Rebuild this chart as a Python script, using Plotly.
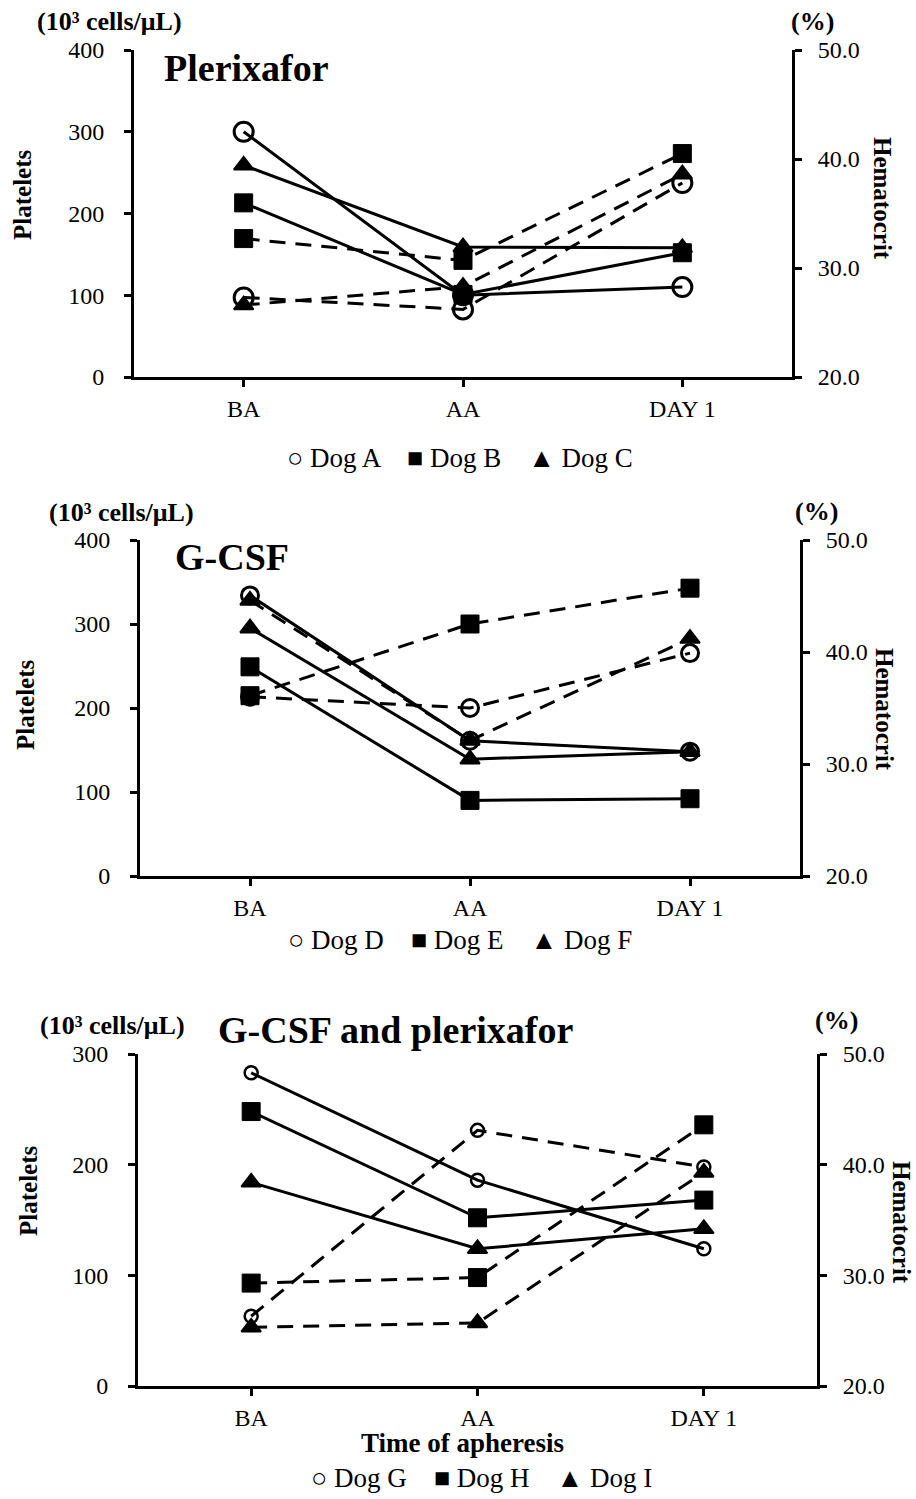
import plotly.graph_objects as go

# ---- data -------------------------------------------------------------
time_points = ["BA", "AA", "DAY 1"]

# Plerixafor
plt_dog_a = [300, 100, 110]
plt_dog_b = [213, 101, 152]
plt_dog_c = [259, 159, 158]
hct_dog_a = [27.3, 26.2, 37.8]
hct_dog_b = [32.7, 30.7, 40.5]
hct_dog_c = [26.6, 28.3, 38.6]

# G-CSF
plt_dog_d = [334, 161, 148]
plt_dog_e = [249, 90, 92]
plt_dog_f = [295, 139, 148]
hct_dog_d = [36.0, 35.0, 39.9]
hct_dog_e = [36.1, 42.5, 45.7]
hct_dog_f = [44.6, 32.1, 41.2]

# G-CSF and plerixafor
plt_dog_g = [283, 186, 124]
plt_dog_h = [248, 152, 168]
plt_dog_i = [184, 124, 142]
hct_dog_g = [26.3, 43.1, 39.8]
hct_dog_h = [29.3, 29.8, 43.6]
hct_dog_i = [25.3, 25.7, 39.3]

panel_titles = ["Plerixafor", "G-CSF", "G-CSF and plerixafor"]
legend_texts = ["○ Dog A    ■ Dog B    ▲ Dog C",
                "○ Dog D    ■ Dog E    ▲ Dog F",
                "○ Dog G    ■ Dog H    ▲ Dog I"]
plt_ticks = [[0, 100, 200, 300, 400], [0, 100, 200, 300, 400], [0, 100, 200, 300]]
hct_ticks = [20, 30, 40, 50]

# ---- layout helpers ---------------------------------------------------
W, H = 916, 1499
FONT = "Liberation Serif"


def fx(px):
    return px / W


def fy(py):
    return 1 - py / H


# plot-area boxes in pixels: left, right, top, bottom
boxes = [(134, 792, 50, 377), (140, 800, 540, 876), (138, 817, 1054, 1386)]
circle_sizes = [(19, 3), (17, 3), (13, 2.5)]

groups = [
    ([plt_dog_a, plt_dog_b, plt_dog_c], [hct_dog_a, hct_dog_b, hct_dog_c]),
    ([plt_dog_d, plt_dog_e, plt_dog_f], [hct_dog_d, hct_dog_e, hct_dog_f]),
    ([plt_dog_g, plt_dog_h, plt_dog_i], [hct_dog_g, hct_dog_h, hct_dog_i]),
]

fig = go.Figure()

for p, (plts, hcts) in enumerate(groups):
    xa = "x" if p == 0 else f"x{p + 1}"
    ya_plt = "y" if p == 0 else f"y{2 * p + 1}"
    ya_hct = f"y{2 * p + 2}"
    csize, cwidth = circle_sizes[p]
    symbols = [
        dict(symbol="circle-open", size=csize, color="black", line=dict(width=cwidth, color="black")),
        dict(symbol="square", size=18, color="black", line=dict(width=1, color="black")),
        dict(symbol="triangle-up", size=17, color="black", line=dict(width=2, color="black")),
    ]
    # hematocrit: dashed lines on the right-hand axis
    for vals, mk in zip(hcts, symbols):
        fig.add_trace(go.Scatter(
            x=time_points, y=vals, xaxis=xa, yaxis=ya_hct, mode="lines+markers",
            line=dict(color="black", width=3, dash="16px,10px"), marker=mk,
            showlegend=False, cliponaxis=False))
    # platelets: solid lines on the left-hand axis
    for vals, mk in zip(plts, symbols):
        fig.add_trace(go.Scatter(
            x=time_points, y=vals, xaxis=xa, yaxis=ya_plt, mode="lines+markers",
            line=dict(color="black", width=3), marker=mk,
            showlegend=False, cliponaxis=False))

layout = dict(
    template="none",
    width=W, height=H, margin=dict(l=0, r=0, t=0, b=0, pad=0),
    paper_bgcolor="white", plot_bgcolor="white",
    font=dict(family=FONT, color="black"),
    showlegend=False,
)

tickfont = dict(family=FONT, size=24, color="black")
annotations = []

for p, (l, r, t, b) in enumerate(boxes):
    xkey = "xaxis" if p == 0 else f"xaxis{p + 1}"
    ykey_plt = "yaxis" if p == 0 else f"yaxis{2 * p + 1}"
    ykey_hct = f"yaxis{2 * p + 2}"
    xname = "x" if p == 0 else f"x{p + 1}"
    yname_plt = "y" if p == 0 else f"y{2 * p + 1}"

    layout[xkey] = dict(
        domain=[fx(l), fx(r)], anchor=yname_plt, type="category",
        range=[-0.5, 2.5], showline=True, linecolor="black", linewidth=3,
        ticks="outside", ticklen=7, tickwidth=3, tickcolor="black",
        tickfont=tickfont, ticklabelstandoff=1, showgrid=False, zeroline=False,
        automargin=False)
    layout[ykey_plt] = dict(
        domain=[fy(b), fy(t)], anchor=xname, range=[0, plt_ticks[p][-1]],
        tickvals=plt_ticks[p], showline=True, linecolor="black", linewidth=3,
        ticks="outside", ticklen=7, tickwidth=3, tickcolor="black",
        tickfont=tickfont, ticklabelstandoff=15, showgrid=False, zeroline=False,
        automargin=False)
    layout[ykey_hct] = dict(
        overlaying=yname_plt, side="right", anchor=xname, range=[20, 50],
        tickvals=hct_ticks, tickformat=".1f", showline=True, linecolor="black",
        linewidth=3, ticks="outside", ticklen=7, tickwidth=3, tickcolor="black",
        tickfont=tickfont, ticklabelstandoff=11, showgrid=False, zeroline=False,
        automargin=False)

# text labels: (text, x px, y px, size, angle)
labels = [
    ("(10³ cells/μL)", 109, 22, 26, 0),
    ("(%)", 812, 22, 26, 0),
    ("Platelets", 23, 195, 25, -90),
    ("Hematocrit", 883, 198, 25, 90),
    ("(10³ cells/μL)", 121, 512, 26, 0),
    ("(%)", 816, 511, 26, 0),
    ("Platelets", 25, 705, 25, -90),
    ("Hematocrit", 885, 709, 25, 90),
    ("(10³ cells/μL)", 112, 1025, 26, 0),
    ("(%)", 836, 1020, 26, 0),
    ("Platelets", 28, 1191, 25, -90),
    ("Hematocrit", 902, 1222, 25, 90),
    ("Time of apheresis", 462, 1443, 27, 0),
]
title_pos = [(246, 68), (232, 557), (395, 1030)]
legend_pos = [(460, 458), (460, 940), (482, 1478)]

for text, x, y, size, ang in labels:
    annotations.append(dict(
        text=f"<b>{text}</b>", x=fx(x), y=fy(y),
        xref="paper", yref="paper", xanchor="center", yanchor="middle",
        showarrow=False, textangle=ang, font=dict(family=FONT, size=size, color="black")))

for title, (x, y) in zip(panel_titles, title_pos):
    annotations.append(dict(
        text=f"<b>{title}</b>", x=fx(x), y=fy(y), xref="paper", yref="paper",
        xanchor="center", yanchor="middle", showarrow=False,
        font=dict(family=FONT, size=38, color="black")))

for text, (x, y) in zip(legend_texts, legend_pos):
    annotations.append(dict(
        text=text, x=fx(x), y=fy(y), xref="paper", yref="paper",
        xanchor="center", yanchor="middle", showarrow=False,
        font=dict(family=FONT, size=27, color="black")))

layout["annotations"] = annotations
fig.update_layout(**layout)

fig.write_html("out.html")
